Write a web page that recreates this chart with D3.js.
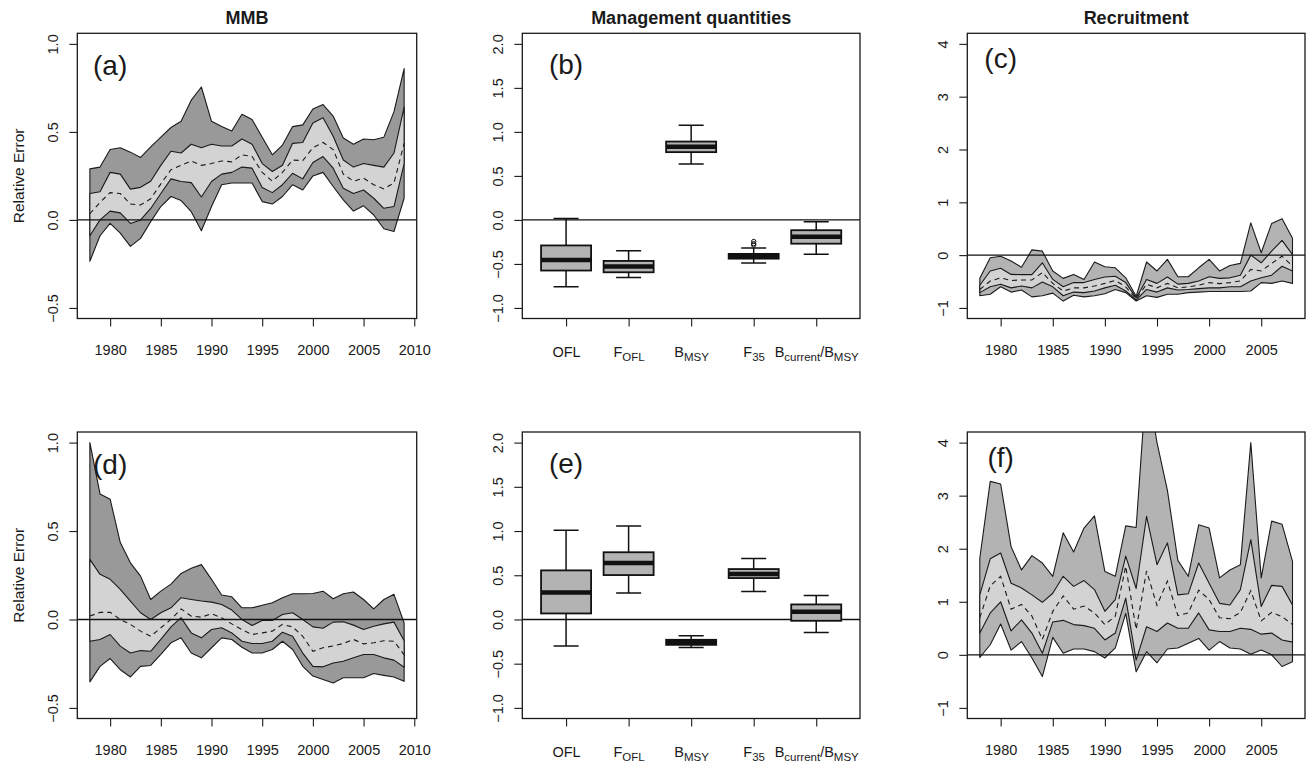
<!DOCTYPE html>
<html>
<head>
<meta charset="utf-8">
<script src="https://cdn.jsdelivr.net/npm/d3@7"></script>
<style>
  body { margin: 0; background: #fff; }
  svg { display: block; }
  text { font-family: Arial, "Liberation Sans", Helvetica, sans-serif; fill: #1a1a1a; }
</style>
</head>
<body>
<svg id="fig" width="1308" height="763"></svg>
<script>
// ---------------- data ----------------
const yearsMMB = [1978,1979,1980,1981,1982,1983,1984,1985,1986,1987,1988,1989,1990,1991,1992,1993,
                  1994,1995,1996,1997,1998,1999,2000,2001,2002,2003,2004,2005,2006,2007,2008,2009];
const yearsRec = [1978,1979,1980,1981,1982,1983,1984,1985,1986,1987,1988,1989,1990,1991,1992,1993,
                  1994,1995,1996,1997,1998,1999,2000,2001,2002,2003,2004,2005,2006,2007,2008];

// (a) MMB, scenario 1
const mmbA_outerHi = [0.29,0.30,0.40,0.41,0.385,0.355,0.415,0.47,0.525,0.56,0.68,0.755,0.56,0.53,0.505,0.60,0.57,0.47,0.37,0.425,0.53,0.54,0.63,0.655,0.59,0.465,0.43,0.46,0.455,0.47,0.615,0.86];
const mmbA_innerHi = [0.15,0.16,0.27,0.26,0.175,0.185,0.22,0.31,0.39,0.38,0.43,0.41,0.43,0.42,0.42,0.46,0.43,0.32,0.275,0.31,0.435,0.44,0.55,0.58,0.475,0.34,0.30,0.32,0.31,0.30,0.38,0.64];
const mmbA_median  = [0.035,0.10,0.155,0.15,0.09,0.085,0.12,0.205,0.285,0.31,0.335,0.31,0.32,0.335,0.33,0.37,0.36,0.27,0.22,0.27,0.34,0.337,0.41,0.44,0.40,0.26,0.22,0.237,0.20,0.176,0.21,0.435];
const mmbA_innerLo = [-0.09,0.0,0.05,0.04,-0.02,0.0,0.065,0.15,0.233,0.218,0.212,0.13,0.218,0.26,0.27,0.30,0.294,0.184,0.155,0.2,0.265,0.233,0.326,0.36,0.294,0.18,0.15,0.17,0.123,0.066,0.076,0.32];
const mmbA_outerLo = [-0.235,-0.09,-0.02,-0.075,-0.15,-0.105,-0.01,0.076,0.133,0.11,0.047,-0.062,0.076,0.2,0.21,0.21,0.21,0.104,0.09,0.133,0.2,0.17,0.25,0.27,0.19,0.114,0.05,0.08,0.028,-0.05,-0.066,0.123];

// (d) MMB, scenario 2
const mmbD_outerHi = [1.0,0.71,0.68,0.435,0.32,0.245,0.113,0.16,0.20,0.26,0.29,0.31,0.227,0.138,0.128,0.066,0.066,0.08,0.094,0.123,0.145,0.145,0.147,0.16,0.117,0.145,0.155,0.113,0.06,0.113,0.142,-0.02];
const mmbD_innerHi = [0.34,0.255,0.227,0.17,0.104,0.038,0.0,0.038,0.066,0.123,0.113,0.104,0.098,0.085,0.053,0.0,-0.034,-0.006,-0.006,0.028,0.038,0.0,-0.042,-0.05,-0.015,-0.013,-0.032,-0.057,-0.038,-0.025,-0.015,-0.12];
const mmbD_median  = [0.019,0.04,0.04,0.0,-0.028,-0.066,-0.095,-0.047,0.0,0.06,0.019,0.013,0.032,0.01,-0.025,-0.057,-0.085,-0.076,-0.066,-0.028,-0.042,-0.095,-0.18,-0.16,-0.15,-0.136,-0.113,-0.138,-0.132,-0.12,-0.123,-0.2];
const mmbD_innerLo = [-0.123,-0.113,-0.085,-0.151,-0.19,-0.176,-0.18,-0.113,-0.042,0.01,-0.076,-0.104,-0.057,-0.047,-0.076,-0.123,-0.136,-0.136,-0.123,-0.072,-0.095,-0.19,-0.265,-0.268,-0.246,-0.236,-0.217,-0.198,-0.198,-0.217,-0.23,-0.27];
const mmbD_outerLo = [-0.353,-0.265,-0.221,-0.284,-0.325,-0.265,-0.26,-0.198,-0.132,-0.104,-0.19,-0.217,-0.16,-0.104,-0.113,-0.157,-0.19,-0.19,-0.17,-0.123,-0.17,-0.265,-0.32,-0.34,-0.359,-0.33,-0.33,-0.33,-0.306,-0.316,-0.325,-0.35];

// (c) Recruitment, scenario 1
const recC_outerHi = [-0.44,-0.05,-0.02,-0.11,-0.23,0.10,0.075,-0.30,-0.44,-0.365,-0.46,-0.13,-0.22,-0.24,-0.43,-0.78,-0.13,-0.30,-0.08,-0.41,-0.41,-0.24,-0.08,-0.30,-0.195,-0.157,0.61,0.044,0.60,0.69,0.32];
const recC_innerHi = [-0.57,-0.30,-0.25,-0.365,-0.37,-0.37,-0.145,-0.46,-0.60,-0.52,-0.52,-0.46,-0.415,-0.40,-0.52,-0.81,-0.46,-0.535,-0.415,-0.55,-0.535,-0.49,-0.41,-0.44,-0.43,-0.38,0.0,-0.145,0.075,0.28,0.01];
const recC_median  = [-0.65,-0.49,-0.43,-0.48,-0.47,-0.47,-0.33,-0.535,-0.68,-0.62,-0.62,-0.585,-0.535,-0.48,-0.60,-0.83,-0.55,-0.62,-0.535,-0.62,-0.60,-0.57,-0.52,-0.54,-0.52,-0.49,-0.27,-0.30,-0.157,-0.02,-0.21];
const recC_innerLo = [-0.71,-0.60,-0.55,-0.62,-0.585,-0.62,-0.51,-0.60,-0.77,-0.70,-0.71,-0.68,-0.62,-0.57,-0.68,-0.85,-0.65,-0.70,-0.62,-0.66,-0.65,-0.635,-0.62,-0.62,-0.60,-0.60,-0.49,-0.43,-0.38,-0.21,-0.30];
const recC_outerLo = [-0.77,-0.74,-0.60,-0.70,-0.66,-0.79,-0.77,-0.72,-0.87,-0.76,-0.79,-0.77,-0.73,-0.65,-0.71,-0.87,-0.77,-0.80,-0.74,-0.74,-0.71,-0.70,-0.69,-0.69,-0.69,-0.69,-0.68,-0.52,-0.535,-0.49,-0.535];

// (f) Recruitment, scenario 2
const recF_outerHi = [1.82,3.27,3.22,2.04,1.60,1.87,1.73,1.48,2.30,1.94,2.39,2.62,1.57,1.48,2.43,2.40,5.2,4.0,3.1,1.78,1.48,2.45,2.39,1.45,1.60,1.70,4.0,1.45,2.52,2.46,1.76];
const recF_innerHi = [1.13,1.81,1.92,1.35,1.26,1.13,0.99,1.16,1.48,1.29,1.40,1.23,0.82,1.04,1.86,1.25,2.61,1.70,2.11,1.13,1.15,1.73,1.35,0.97,0.94,1.23,2.17,0.91,1.31,1.29,0.94];
const recF_median  = [0.70,1.30,1.48,0.86,0.95,0.73,0.29,0.82,1.11,0.86,0.92,0.79,0.57,0.73,1.67,0.48,1.58,0.93,1.39,0.74,0.79,1.22,1.04,0.70,0.68,0.80,1.21,0.64,0.80,0.72,0.57];
const recF_innerLo = [0.41,0.79,1.0,0.45,0.66,0.41,0.03,0.62,0.65,0.57,0.55,0.50,0.28,0.41,1.07,-0.10,0.53,0.44,0.60,0.50,0.50,0.79,0.47,0.44,0.44,0.50,0.48,0.39,0.41,0.28,0.24];
const recF_outerLo = [-0.05,0.19,0.58,0.09,0.25,-0.06,-0.41,0.33,0.03,0.11,0.11,0.06,-0.06,0.13,0.78,-0.32,0.06,-0.15,0.11,0.13,0.22,0.31,0.09,0.25,0.13,0.11,0.01,0.09,0.0,-0.22,-0.13];

// Management quantities: label parts alternate normal / subscript
const quantityLabels = [["OFL"], ["F","OFL"], ["B","MSY"], ["F","35"], ["B","current","/B","MSY"]];

// (b) box statistics, scenario 1
const boxB_low  = [-0.76, -0.655, 0.636, -0.49, -0.39];
const boxB_q1   = [-0.575, -0.595, 0.77, -0.44, -0.27];
const boxB_med  = [-0.455, -0.53, 0.83, -0.41, -0.19];
const boxB_q3   = [-0.29, -0.466, 0.89, -0.386, -0.117];
const boxB_high = [0.015, -0.35, 1.076, -0.32, -0.02];
const boxB_outliers = [[], [], [], [-0.245, -0.27, -0.285], []];

// (e) box statistics, scenario 2
const boxE_low  = [-0.30, 0.30, -0.317, 0.317, -0.147];
const boxE_q1   = [0.068, 0.502, -0.287, 0.468, -0.015];
const boxE_med  = [0.305, 0.638, -0.257, 0.514, 0.087];
const boxE_q3   = [0.555, 0.76, -0.23, 0.57, 0.17];
const boxE_high = [1.01, 1.057, -0.185, 0.69, 0.27];
const boxE_outliers = [[], [], [], [], []];

const colTitles = ["MMB", "Management quantities", "Recruitment"];
const yLabel = "Relative Error";
const ticksMMB_x = [1980, 1985, 1990, 1995, 2000, 2005, 2010];
const ticksRec_x = [1980, 1985, 1990, 1995, 2000, 2005];
const ticksMMB_y = [-0.5, 0.0, 0.5, 1.0];
const ticksQty_y = [-1.0, -0.5, 0.0, 0.5, 1.0, 1.5, 2.0];
const ticksRec_y = [-1, 0, 1, 2, 3, 4];

// ---------------- layout ----------------
const svg = d3.select("#fig");
const cols = [{x0: 77.3, x1: 416.7}, {x0: 522.3, x1: 860}, {x0: 967.3, x1: 1305}];
const rows = [{y0: 33.3, y1: 318.5}, {y0: 432, y1: 718.5}];
const FS = 14.5;          // axis text size
const TICK = 8;           // tick length
const INNER = "#d3d3d3";
const BOXFILL = "#b3b3b3";

// R-style axis range: data limits stretched 4% on each side
const pad = ([lo, hi]) => { const r = hi - lo; return [lo - 0.04 * r, hi + 0.04 * r]; };

let clipId = 0;
function panel(col, row) {
  const c = cols[col], r = rows[row];
  const g = svg.append("g");
  const id = "clip" + (clipId++);
  g.append("clipPath").attr("id", id).append("rect")
    .attr("x", c.x0).attr("y", r.y0).attr("width", c.x1 - c.x0).attr("height", r.y1 - r.y0);
  const plot = g.append("g").attr("clip-path", `url(#${id})`);
  return {g, plot, c, r};
}

function yAxis(p, y, ticks, fmt) {
  const ax = p.g.append("g").attr("transform", `translate(${p.c.x0},0)`)
    .call(d3.axisLeft(y).tickValues(ticks).tickSize(TICK).tickFormat(fmt));
  ax.select(".domain").remove();
  ax.selectAll(".tick line").attr("stroke", "#1a1a1a").attr("stroke-width", 1.1);
  ax.selectAll(".tick text")
    .attr("x", null).attr("dy", null).attr("text-anchor", "middle")
    .attr("transform", "translate(-19,0) rotate(-90)")
    .attr("font-size", FS).attr("fill", "#1a1a1a");
}

function xAxis(p, x, ticks, fmt) {
  const ax = p.g.append("g").attr("transform", `translate(0,${p.r.y1})`)
    .call(d3.axisBottom(x).tickValues(ticks).tickSize(TICK).tickPadding(18).tickFormat(fmt));
  ax.select(".domain").remove();
  ax.selectAll(".tick line").attr("stroke", "#1a1a1a").attr("stroke-width", 1.1);
  ax.selectAll(".tick text").attr("font-size", FS).attr("fill", "#1a1a1a");
  return ax;
}

function frame(p) {
  p.g.append("rect").attr("x", p.c.x0).attr("y", p.r.y0)
    .attr("width", p.c.x1 - p.c.x0).attr("height", p.r.y1 - p.r.y0)
    .attr("fill", "none").attr("stroke", "#1a1a1a").attr("stroke-width", 1.3);
}

function zeroLine(p, y) {
  p.plot.append("line").attr("x1", p.c.x0).attr("x2", p.c.x1)
    .attr("y1", y(0)).attr("y2", y(0)).attr("stroke", "#111").attr("stroke-width", 1.4);
}

function letter(p, x, y, xv, yv, txt) {
  p.g.append("text").attr("x", x(xv)).attr("y", y(yv)).attr("dy", "0.35em")
    .attr("text-anchor", "middle").attr("font-size", 28).text(txt);
}

// Time-series panel with 2 nested uncertainty bands and a dashed median
function bandPanel(col, row, years, s, ylim, yTicks, xTicks, outerFill, fmtY, lab, labY) {
  const p = panel(col, row);
  const x = d3.scaleLinear().domain(pad(d3.extent(years))).range([p.c.x0, p.c.x1]);
  const y = d3.scaleLinear().domain(pad(ylim)).range([p.r.y1, p.r.y0]);
  const idx = d3.range(years.length);
  const band = (hi, lo) => d3.area().x(i => x(years[i])).y0(i => y(lo[i])).y1(i => y(hi[i]))(idx) + "Z";
  p.plot.append("path").attr("d", band(s.outerHi, s.outerLo))
    .attr("fill", outerFill).attr("stroke", "#1a1a1a").attr("stroke-width", 1.1).attr("stroke-linejoin", "round");
  p.plot.append("path").attr("d", band(s.innerHi, s.innerLo))
    .attr("fill", INNER).attr("stroke", "#1a1a1a").attr("stroke-width", 1.1).attr("stroke-linejoin", "round");
  p.plot.append("path").attr("d", d3.line().x(i => x(years[i])).y(i => y(s.median[i]))(idx))
    .attr("fill", "none").attr("stroke", "#1a1a1a").attr("stroke-width", 1.1).attr("stroke-dasharray", "5,4");
  zeroLine(p, y);
  frame(p);
  yAxis(p, y, yTicks, fmtY);
  xAxis(p, x, xTicks, d3.format("d"));
  letter(p, x, y, 1980, labY, lab);
  return p;
}

// Box-and-whisker panel of management quantities
function boxPanel(col, row, st, lab) {
  const p = panel(col, row);
  const n = quantityLabels.length;
  const x = d3.scaleLinear().domain(pad([0.5, n + 0.5])).range([p.c.x0, p.c.x1]);
  const y = d3.scaleLinear().domain(pad([-1, 2])).range([p.r.y1, p.r.y0]);
  const bw = x(0.4) - x(0), sw = x(0.2) - x(0);
  zeroLine(p, y);
  for (let i = 0; i < n; i++) {
    const cx = x(i + 1);
    const b = p.plot.append("g");
    const seg = (x1, y1, x2, y2, w) => b.append("line").attr("x1", x1).attr("y1", y1).attr("x2", x2).attr("y2", y2)
      .attr("stroke", "#111").attr("stroke-width", w);
    seg(cx, y(st.high[i]), cx, y(st.q3[i]), 1.5);
    seg(cx, y(st.low[i]), cx, y(st.q1[i]), 1.5);
    seg(cx - sw, y(st.high[i]), cx + sw, y(st.high[i]), 1.5);
    seg(cx - sw, y(st.low[i]), cx + sw, y(st.low[i]), 1.5);
    b.append("rect").attr("x", cx - bw).attr("width", 2 * bw)
      .attr("y", y(st.q3[i])).attr("height", y(st.q1[i]) - y(st.q3[i]))
      .attr("fill", BOXFILL).attr("stroke", "#111").attr("stroke-width", 1.8);
    seg(cx - bw, y(st.med[i]), cx + bw, y(st.med[i]), 4.5);
    st.out[i].forEach(v => b.append("circle").attr("cx", cx).attr("cy", y(v)).attr("r", 2.2)
      .attr("fill", "none").attr("stroke", "#111").attr("stroke-width", 1));
  }
  frame(p);
  yAxis(p, y, ticksQty_y, d3.format(".1f"));
  const ax = xAxis(p, x, d3.range(1, n + 1), () => "");
  ax.selectAll(".tick text").each(function (d) {
    const t = d3.select(this).attr("y", null).attr("dy", null).attr("y", 38.5);
    quantityLabels[d - 1].forEach((part, k) => {
      const sub = k % 2 === 1;
      t.append("tspan").attr("font-size", sub ? 11.5 : FS)
        .attr("dy", k === 0 ? 0 : (sub ? 4 : -4)).text(part);
    });
  });
  letter(p, x, y, 1, 1.77, lab);
  return p;
}

// ---------------- draw ----------------
const fmt1 = d3.format(".1f");
bandPanel(0, 0, yearsMMB,
  {outerHi: mmbA_outerHi, innerHi: mmbA_innerHi, median: mmbA_median, innerLo: mmbA_innerLo, outerLo: mmbA_outerLo},
  [-0.5, 1], ticksMMB_y, ticksMMB_x, "#999999", fmt1, "(a)", 0.88);
bandPanel(0, 1, yearsMMB,
  {outerHi: mmbD_outerHi, innerHi: mmbD_innerHi, median: mmbD_median, innerLo: mmbD_innerLo, outerLo: mmbD_outerLo},
  [-0.5, 1], ticksMMB_y, ticksMMB_x, "#999999", fmt1, "(d)", 0.88);
bandPanel(2, 0, yearsRec,
  {outerHi: recC_outerHi, innerHi: recC_innerHi, median: recC_median, innerLo: recC_innerLo, outerLo: recC_outerLo},
  [-1, 4], ticksRec_y, ticksRec_x, "#b3b3b3", d3.format("d"), "(c)", 3.72);
bandPanel(2, 1, yearsRec,
  {outerHi: recF_outerHi, innerHi: recF_innerHi, median: recF_median, innerLo: recF_innerLo, outerLo: recF_outerLo},
  [-1, 4], ticksRec_y, ticksRec_x, "#b3b3b3", d3.format("d"), "(f)", 3.72);
boxPanel(1, 0, {low: boxB_low, q1: boxB_q1, med: boxB_med, q3: boxB_q3, high: boxB_high, out: boxB_outliers}, "(b)");
boxPanel(1, 1, {low: boxE_low, q1: boxE_q1, med: boxE_med, q3: boxE_q3, high: boxE_high, out: boxE_outliers}, "(e)");

// column titles
colTitles.forEach((t, i) => {
  svg.append("text").attr("x", (cols[i].x0 + cols[i].x1) / 2).attr("y", 24)
    .attr("text-anchor", "middle").attr("font-weight", "bold").attr("font-size", 18).text(t);
});
// y-axis label on the left column
rows.forEach(r => {
  svg.append("text").attr("transform", `translate(24,${(r.y0 + r.y1) / 2}) rotate(-90)`)
    .attr("text-anchor", "middle").attr("font-size", 15.5).text(yLabel);
});
</script>
</body>
</html>
